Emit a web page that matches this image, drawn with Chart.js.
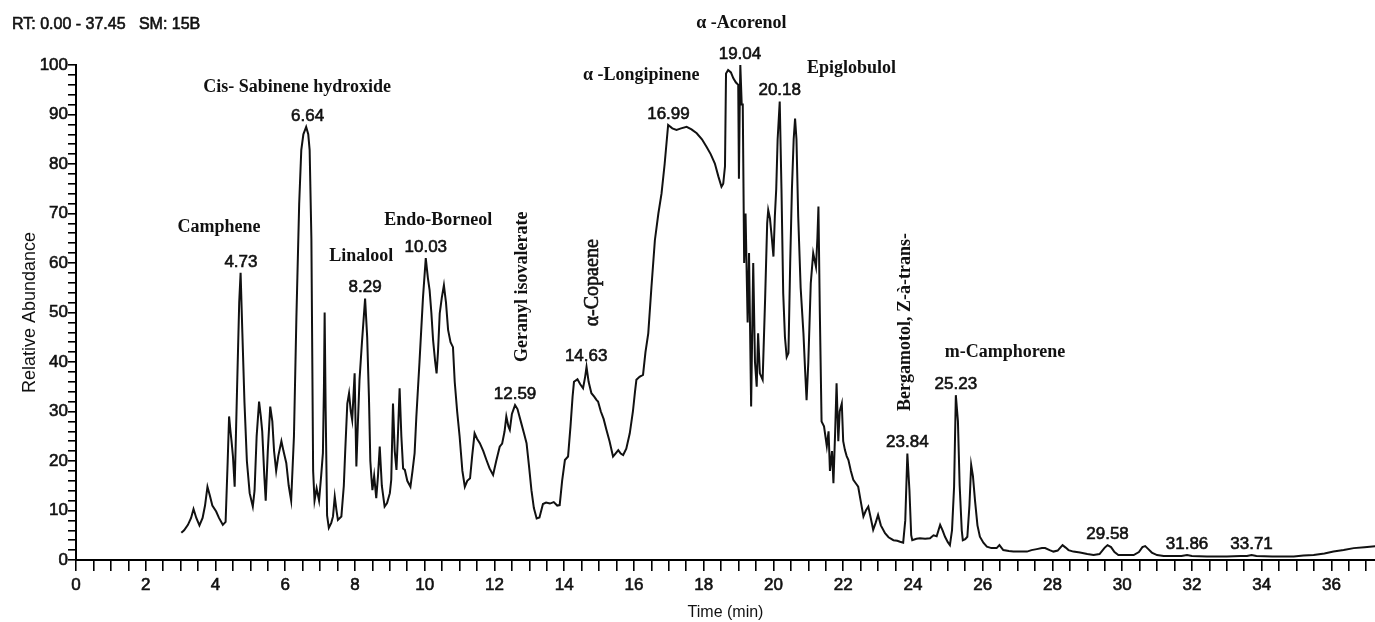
<!DOCTYPE html>
<html>
<head>
<meta charset="utf-8">
<script src="https://cdn.jsdelivr.net/npm/chart.js@4/dist/chart.umd.min.js"></script>
<style>
  html, body { margin: 0; padding: 0; background: #fff; }
  #wrap { width: 1375px; height: 622px; position: relative; }
</style>
</head>
<body>
<div id="wrap"><canvas id="tic"></canvas></div>
<script>
// Total ion chromatogram
const runHeader = 'RT: 0.00 - 37.45   SM: 15B';

const times = [
  3.02, 3.10, 3.21, 3.30, 3.37, 3.45, 3.54, 3.63, 3.70, 3.77, 3.84, 3.91, 4.02, 4.10, 4.21, 4.29,
  4.35, 4.39, 4.43, 4.46, 4.50, 4.55, 4.62, 4.68, 4.72, 4.77, 4.83, 4.90, 4.98, 5.07, 5.12, 5.18,
  5.25, 5.30, 5.34, 5.40, 5.44, 5.50, 5.57, 5.63, 5.68, 5.74, 5.80, 5.89, 5.95, 6.03, 6.10, 6.17,
  6.25, 6.32, 6.40, 6.46, 6.52, 6.60, 6.66, 6.70, 6.75, 6.80, 6.84, 6.90, 6.97, 7.03, 7.08, 7.11,
  7.13, 7.16, 7.20, 7.25, 7.32, 7.37, 7.42, 7.47, 7.51, 7.61, 7.68, 7.72, 7.78, 7.83, 7.88, 7.92,
  7.99, 8.04, 8.08, 8.13, 8.20, 8.29, 8.35, 8.40, 8.44, 8.47, 8.50, 8.55, 8.61, 8.66, 8.71, 8.77,
  8.85, 8.92, 9.00, 9.04, 9.09, 9.14, 9.19, 9.23, 9.28, 9.33, 9.38, 9.43, 9.50, 9.59, 9.65, 9.71,
  9.76, 9.85, 9.95, 10.03, 10.09, 10.14, 10.19, 10.24, 10.30, 10.34, 10.38, 10.43, 10.49, 10.55, 10.61, 10.67,
  10.74, 10.81, 10.86, 10.93, 11.00, 11.08, 11.15, 11.22, 11.30, 11.36, 11.43, 11.50, 11.58, 11.68, 11.77, 11.86,
  11.96, 12.05, 12.15, 12.22, 12.29, 12.34, 12.40, 12.44, 12.50, 12.59, 12.66, 12.77, 12.85, 12.92, 12.99, 13.06,
  13.13, 13.21, 13.29, 13.39, 13.48, 13.59, 13.70, 13.80, 13.87, 13.94, 14.02, 14.11, 14.18, 14.24, 14.28, 14.38,
  14.46, 14.54, 14.60, 14.64, 14.70, 14.78, 14.86, 14.93, 14.97, 15.05, 15.13, 15.21, 15.30, 15.40, 15.47, 15.55,
  15.62, 15.69, 15.78, 15.88, 15.97, 16.03, 16.07, 16.16, 16.26, 16.33, 16.41, 16.50, 16.60, 16.70, 16.79, 16.88,
  16.98, 17.10, 17.22, 17.35, 17.51, 17.65, 17.80, 17.95, 18.08, 18.20, 18.32, 18.42, 18.51, 18.56, 18.61, 18.64,
  18.70, 18.78, 18.85, 18.92, 18.99, 19.01, 19.03, 19.05, 19.09, 19.12, 19.16, 19.20, 19.26, 19.30, 19.36, 19.42,
  19.47, 19.52, 19.56, 19.61, 19.69, 19.76, 19.82, 19.85, 19.90, 19.95, 20.00, 20.04, 20.08, 20.12, 20.18, 20.23,
  20.28, 20.33, 20.38, 20.43, 20.48, 20.53, 20.58, 20.62, 20.66, 20.71, 20.78, 20.86, 20.91, 20.95, 21.00, 21.07,
  21.14, 21.22, 21.26, 21.29, 21.33, 21.38, 21.45, 21.53, 21.58, 21.62, 21.68, 21.72, 21.77, 21.81, 21.86, 21.90,
  21.96, 22.00, 22.05, 22.10, 22.15, 22.22, 22.29, 22.36, 22.43, 22.50, 22.58, 22.65, 22.72, 22.79, 22.86, 22.93,
  23.00, 23.08, 23.20, 23.30, 23.44, 23.55, 23.63, 23.72, 23.78, 23.84, 23.90, 23.95, 23.98, 24.10, 24.20, 24.35,
  24.49, 24.59, 24.68, 24.78, 24.85, 24.92, 25.00, 25.06, 25.12, 25.18, 25.23, 25.29, 25.34, 25.40, 25.43, 25.50,
  25.56, 25.62, 25.67, 25.72, 25.78, 25.85, 25.92, 26.02, 26.12, 26.25, 26.40, 26.48, 26.59, 26.75, 26.88, 27.10,
  27.27, 27.40, 27.55, 27.70, 27.79, 27.92, 28.03, 28.15, 28.29, 28.38, 28.46, 28.60, 28.79, 29.00, 29.18, 29.35,
  29.50, 29.58, 29.68, 29.78, 29.89, 30.10, 30.33, 30.48, 30.58, 30.66, 30.75, 30.85, 31.00, 31.19, 31.50, 31.70,
  31.86, 32.00, 32.43, 33.00, 33.40, 33.58, 33.71, 33.85, 34.30, 34.92, 35.20, 35.49, 35.80, 36.06, 36.35, 36.64,
  36.95, 37.26
];

const abundance = [
  5.5, 6.0, 7.1, 8.5, 10.3, 8.5, 7.0, 8.5, 11.0, 14.8, 13.0, 11.0, 9.8, 8.5, 7.1, 7.7,
  20.0, 29.0, 26.0, 24.0, 21.0, 14.8, 35.0, 52.0, 58.0, 46.0, 32.0, 20.0, 13.5, 10.8, 14.0, 25.0,
  32.0, 29.0, 26.0, 17.0, 12.0, 22.0, 31.0, 28.0, 22.0, 18.0, 21.0, 24.0, 22.0, 19.6, 15.0, 12.0,
  25.0, 49.0, 72.0, 82.8, 86.0, 87.5, 86.0, 82.8, 65.0, 18.0, 12.0, 14.5, 12.0, 17.0, 21.6, 35.0,
  50.0, 30.0, 9.0, 6.5, 7.5, 8.8, 12.8, 10.0, 8.1, 8.8, 15.0, 22.0, 31.6, 33.7, 30.0, 28.3,
  37.7, 18.9, 27.0, 36.4, 44.0, 52.8, 45.0, 33.0, 20.0, 16.8, 14.1, 17.0, 12.5, 17.0, 22.9, 15.0,
  10.8, 11.5, 13.5, 16.2, 31.6, 22.0, 18.2, 25.0, 34.7, 25.0, 18.5, 18.2, 16.0, 14.8, 18.0, 21.6,
  29.0, 40.0, 53.0, 61.0, 57.0, 54.5, 50.0, 44.4, 40.0, 37.7, 42.0, 49.8, 53.0, 55.5, 52.0, 46.5,
  44.0, 43.0, 36.0, 30.0, 25.0, 18.0, 14.8, 16.0, 16.5, 21.0, 25.6, 24.5, 23.6, 22.0, 20.2, 18.5,
  17.2, 20.0, 22.9, 23.5, 26.0, 29.0, 27.0, 26.3, 29.5, 31.3, 30.5, 27.6, 25.5, 23.6, 19.0, 14.1,
  10.5, 8.4, 8.6, 11.3, 11.6, 11.4, 11.7, 11.0, 11.1, 16.0, 20.2, 20.9, 27.0, 33.0, 36.0, 36.5,
  35.5, 34.7, 37.0, 39.0, 36.0, 33.7, 33.0, 32.3, 32.0, 30.0, 28.5, 26.3, 24.0, 20.9, 21.5, 22.2,
  21.5, 21.2, 22.5, 25.6, 30.0, 34.0, 36.4, 37.0, 37.4, 42.0, 45.8, 55.0, 64.6, 70.0, 74.0, 80.0,
  87.9, 87.2, 86.9, 87.2, 87.5, 87.0, 86.2, 85.0, 83.5, 82.0, 80.1, 77.5, 75.4, 76.0, 79.5, 98.3,
  99.0, 98.5, 97.3, 96.5, 96.0, 77.0, 90.0, 100.0, 92.0, 92.0, 60.0, 70.0, 48.0, 62.0, 31.0, 60.0,
  40.0, 35.0, 45.8, 37.7, 36.4, 52.5, 68.0, 70.7, 69.0, 65.3, 61.3, 69.4, 75.0, 85.0, 92.6, 75.0,
  53.9, 45.0, 41.0, 41.8, 60.0, 75.0, 85.0, 89.2, 85.0, 69.4, 55.0, 45.8, 38.0, 32.3, 40.0, 55.9,
  62.0, 59.2, 65.0, 71.4, 50.0, 28.0, 27.0, 23.0, 26.0, 18.0, 22.0, 15.5, 26.0, 35.7, 24.0, 30.0,
  31.6, 24.0, 22.2, 21.0, 20.2, 18.0, 16.2, 15.5, 14.8, 12.0, 8.8, 10.0, 10.8, 8.5, 6.1, 7.5,
  9.1, 7.0, 5.4, 4.6, 4.0, 3.9, 3.7, 3.5, 8.0, 21.5, 14.0, 5.0, 4.0, 4.3, 4.4, 4.3,
  4.4, 5.0, 4.8, 7.1, 6.0, 4.7, 3.6, 3.0, 6.0, 14.8, 33.3, 28.0, 15.0, 6.0, 4.0, 4.2,
  4.7, 11.0, 19.2, 17.0, 12.0, 7.0, 4.7, 3.5, 2.7, 2.4, 2.4, 3.0, 2.0, 1.8, 1.7, 1.7,
  1.7, 2.0, 2.2, 2.4, 2.4, 2.0, 1.7, 1.9, 3.0, 2.5, 2.0, 1.7, 1.5, 1.2, 1.0, 1.2,
  2.5, 3.0, 2.6, 1.6, 1.0, 1.0, 1.0, 1.6, 2.6, 2.8, 2.2, 1.5, 1.0, 0.8, 0.8, 0.8,
  1.0, 0.8, 0.7, 0.7, 0.8, 0.8, 1.0, 0.8, 0.7, 0.7, 0.9, 1.0, 1.3, 1.7, 2.0, 2.4,
  2.6, 2.8
];

// labelled retention times (min)
const peakTimes = [4.73, 6.64, 8.29, 10.03, 12.59, 14.63, 16.99, 19.04, 20.18, 23.84, 25.23, 29.58, 31.86, 33.71];

// compound names and where they sit on the plot (time, abundance)
const compoundNames = [
  'Camphene', 'Cis- Sabinene hydroxide', 'Linalool', 'Endo-Borneol', 'Geranyl isovalerate',
  'α-Copaene', 'α -Longipinene', 'α -Acorenol', 'Epiglobulol', 'Bergamotol, Z-à-trans-', 'm-Camphorene'
];
const namePlacement = [
  { t: 4.10, v: 67.2, vertical: false, bold: true },
  { t: 6.34, v: 95.4, vertical: false, bold: true },
  { t: 8.18, v: 61.4, vertical: false, bold: true },
  { t: 10.39, v: 68.7, vertical: false, bold: true },
  { t: 12.81, v: 55.2, vertical: true, bold: true },
  { t: 14.82, v: 56.0, vertical: true, bold: false },
  { t: 16.21, v: 98.0, vertical: false, bold: true },
  { t: 19.08, v: 108.5, vertical: false, bold: true },
  { t: 22.24, v: 99.4, vertical: false, bold: true },
  { t: 23.78, v: 48.1, vertical: true, bold: true },
  { t: 26.64, v: 42.0, vertical: false, bold: true }
];

// tick positions: minor every 0.5 min / 2 %, labelled every 2 min / 10 %
const xTickValues = [];
for (let i = 0; i <= 74; i++) xTickValues.push(i / 2);
const yTickValues = [];
for (let i = 0; i <= 50; i++) yTickValues.push(i * 2);

const points = times.map((t, i) => ({ x: t, y: abundance[i] }));

function peakHeight(t) {
  let best = 0;
  times.forEach((tt, i) => {
    if (Math.abs(tt - t) <= 0.08 && abundance[i] > best) best = abundance[i];
  });
  return best;
}

// slightly heavier sans text, like the scanned instrument print-out
function heavyText(ctx, str, x, y) {
  ctx.strokeText(str, x, y);
  ctx.fillText(str, x, y);
}

const textPlugin = {
  id: 'tracetext',
  afterDraw(chart) {
    const { ctx, scales: { x, y } } = chart;
    ctx.save();
    ctx.fillStyle = '#111';
    ctx.strokeStyle = '#111';
    ctx.lineWidth = 0.6;

    ctx.font = '16px "Liberation Sans", Arial, sans-serif';
    ctx.textAlign = 'left';
    ctx.textBaseline = 'middle';
    heavyText(ctx, runHeader, 12, 25);

    // retention time above each labelled peak
    ctx.font = '17px "Liberation Sans", Arial, sans-serif';
    ctx.textAlign = 'center';
    peakTimes.forEach(t => {
      const px = x.getPixelForValue(t);
      const py = y.getPixelForValue(peakHeight(t)) - 11;
      heavyText(ctx, t.toFixed(2), px, py);
    });

    // compound names
    compoundNames.forEach((name, i) => {
      const p = namePlacement[i];
      const px = x.getPixelForValue(p.t);
      const py = y.getPixelForValue(p.v);
      ctx.font = (p.bold ? 'bold 18px' : '20px') + ' "Liberation Serif", "Times New Roman", serif';
      ctx.save();
      ctx.translate(px, py);
      if (p.vertical) ctx.rotate(-Math.PI / 2);
      if (p.bold) ctx.fillText(name, 0, 0);
      else heavyText(ctx, name, 0, 0);
      ctx.restore();
    });
    ctx.restore();
  }
};

const sansFont = '"Liberation Sans", Arial, sans-serif';

new Chart(document.getElementById('tic'), {
  type: 'line',
  data: {
    datasets: [{
      data: points,
      borderColor: '#111',
      borderWidth: 2,
      pointRadius: 0,
      tension: 0,
      fill: false
    }]
  },
  options: {
    responsive: true,
    maintainAspectRatio: false,
    animation: false,
    layout: { padding: { top: 65, right: 0, bottom: 0, left: 0 } },
    plugins: { legend: { display: false }, tooltip: { enabled: false } },
    scales: {
      x: {
        type: 'linear',
        min: 0,
        max: 37.25,
        afterFit: s => { s.height = 62; },
        afterBuildTicks: s => { s.ticks = xTickValues.map(v => ({ value: v })); },
        border: { display: true, color: '#000', width: 2 },
        grid: { display: true, drawOnChartArea: false, drawTicks: true, tickLength: 11, color: '#000', lineWidth: 1.6 },
        ticks: {
          autoSkip: false,
          maxRotation: 0,
          padding: 4,
          color: '#111',
          textStrokeColor: '#111',
          textStrokeWidth: 0.6,
          font: { family: sansFont, size: 17 },
          callback: v => (Math.abs(v % 2) < 1e-6 ? String(v) : '')
        },
        title: {
          display: true,
          text: 'Time (min)',
          color: '#111',
          padding: { top: 0, bottom: 0 },
          font: { family: sansFont, size: 16 }
        }
      },
      y: {
        min: 0,
        max: 100,
        afterFit: s => { s.width = 76; },
        afterBuildTicks: s => { s.ticks = yTickValues.map(v => ({ value: v })); },
        border: { display: true, color: '#000', width: 2 },
        grid: { display: true, drawOnChartArea: false, drawTicks: true, tickLength: 8, color: '#000', lineWidth: 1.6 },
        ticks: {
          autoSkip: false,
          padding: 0,
          color: '#111',
          textStrokeColor: '#111',
          textStrokeWidth: 0.6,
          font: { family: sansFont, size: 17 },
          callback: v => (v % 10 === 0 ? String(v) : '')
        },
        title: {
          display: true,
          text: 'Relative Abundance',
          color: '#111',
          padding: { top: 19, bottom: 0 },
          font: { family: sansFont, size: 18 }
        }
      }
    }
  },
  plugins: [textPlugin]
});
</script>
</body>
</html>
